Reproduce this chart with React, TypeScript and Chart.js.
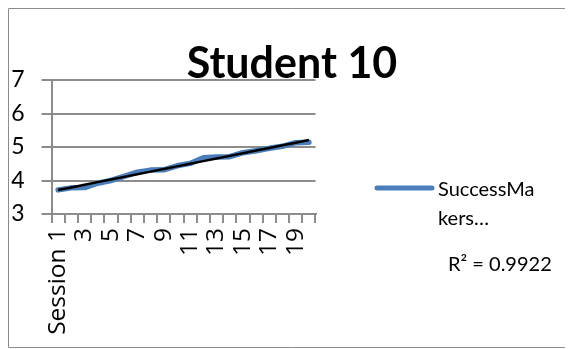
import React, { useEffect, useRef } from 'react';
import { Chart, registerables } from 'chart.js';

Chart.register(...registerables);

const categories = ['Session 1', '2', '3', '4', '5', '6', '7', '8', '9', '10', '11', '12', '13', '14', '15', '16', '17', '18', '19', '20'];
const successMakers = [3.72, 3.78, 3.79, 3.92, 4.0, 4.12, 4.25, 4.31, 4.32, 4.44, 4.51, 4.68, 4.7, 4.71, 4.83, 4.89, 4.96, 5.02, 5.13, 5.14];
const yTicks = [3, 4, 5, 6, 7];
const titleText = 'Student 10';
const legendLines = ['SuccessMa', 'kers…'];
const r2Label = 'R² = 0.9922';

const FONT = 'Lato, "Open Sans", sans-serif';
const XFONT = '"Open Sans", Lato, sans-serif';
const W = 565;
const H = 341;

function linearFit(values: number[]): number[] {
  const n = values.length;
  let sx = 0, sy = 0, sxx = 0, sxy = 0;
  values.forEach((v, i) => { sx += i; sy += v; sxx += i * i; sxy += i * v; });
  const slope = (n * sxy - sx * sy) / (n * sxx - sx * sx);
  const icpt = (sy - slope * sx) / n;
  return values.map((_, i) => icpt + slope * i);
}

const decorPlugin = {
  id: 'decor',
  beforeDraw(chart: any) {
    const ctx = chart.ctx;
    ctx.save();
    ctx.strokeStyle = '#8c8c8c';
    ctx.lineWidth = 1;
    ctx.beginPath();
    ctx.moveTo(W + 5, 0.5);
    ctx.lineTo(0.5, 0.5);
    ctx.lineTo(0.5, H - 1.5);
    ctx.lineTo(W + 5, H - 1.5);
    ctx.stroke();
    ctx.restore();
  },
  afterDraw(chart: any) {
    const ctx = chart.ctx;
    ctx.save();
    // title
    ctx.fillStyle = '#000';
    ctx.font = `bold 43px ${FONT}`;
    ctx.textAlign = 'center';
    ctx.textBaseline = 'alphabetic';
    ctx.fillText(titleText, 284, 70);
    // legend
    ctx.strokeStyle = '#4a7ebb';
    ctx.lineWidth = 5;
    ctx.lineCap = 'round';
    ctx.beginPath();
    ctx.moveTo(369, 180);
    ctx.lineTo(424, 180);
    ctx.stroke();
    ctx.font = `20px ${FONT}`;
    ctx.textAlign = 'left';
    ctx.textBaseline = 'middle';
    ctx.fillText(legendLines[0], 430, 182);
    ctx.fillText(legendLines[1], 430, 211);
    ctx.fillText(r2Label, 440, 257);
    ctx.restore();
  },
};

export default function App() {
  const ref = useRef<HTMLCanvasElement>(null);
  useEffect(() => {
    if (!ref.current) return;
    const chart = new Chart(ref.current, {
      type: 'line',
      data: {
        labels: categories,
        datasets: [
          {
            label: 'SuccessMakers',
            data: successMakers,
            borderColor: '#4a7ebb',
            backgroundColor: '#4a7ebb',
            borderWidth: 5.5,
            borderCapStyle: 'round',
            borderJoinStyle: 'round',
            pointRadius: 0,
            tension: 0,
            order: 2,
          },
          {
            label: 'Linear',
            data: linearFit(successMakers),
            borderColor: '#000',
            borderWidth: 2.5,
            pointRadius: 0,
            tension: 0,
            order: 1,
          },
        ],
      },
      options: {
        responsive: false,
        animation: false,
        layout: { padding: { left: 0, right: W - 307.5, top: 72, bottom: 0 } },
        plugins: {
          legend: { display: false },
          title: { display: false },
          tooltip: { enabled: false },
        },
        scales: {
          x: {
            type: 'category',
            offset: true,
            grid: { offset: true, drawOnChartArea: false, drawTicks: true, tickLength: 9, color: '#8c8c8c', lineWidth: 2 },
            border: { display: true, color: '#8c8c8c', width: 2 },
            ticks: {
              autoSkip: false,
              maxRotation: 90,
              minRotation: 90,
              padding: 5,
              color: '#000',
              font: { family: XFONT, size: 24.5 },
              callback: (_v: any, i: number) => (i % 2 === 0 ? categories[i] : ''),
            },
            afterFit: (s: any) => { s.height = H - 206; },
          },
          y: {
            min: yTicks[0],
            max: yTicks[yTicks.length - 1],
            afterBuildTicks: (s: any) => { s.ticks = yTicks.map((v) => ({ value: v })); },
            grid: { drawTicks: true, tickLength: 10, color: '#8c8c8c', lineWidth: 2 },
            border: { display: true, color: '#8c8c8c', width: 2 },
            ticks: { padding: 17, color: '#000', font: { family: FONT, size: 23 } },
            afterFit: (s: any) => { s.width = 43.5; },
          },
        },
      },
      plugins: [decorPlugin],
    } as any);
    return () => chart.destroy();
  }, []);
  return (
    <div style={{ width: W, height: H }}>
      <canvas ref={ref} width={W} height={H} style={{ display: 'block', width: W, height: H }} />
    </div>
  );
}
